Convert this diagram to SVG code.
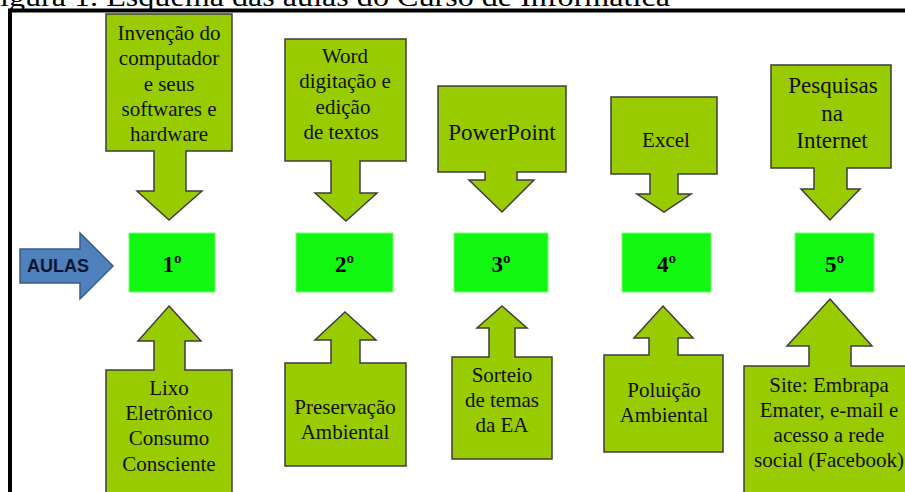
<svg xmlns="http://www.w3.org/2000/svg" width="905" height="492" viewBox="0 0 905 492">
<style>
.co{fill:#99CC00;stroke:#3d3d3d;stroke-width:1.5;stroke-linejoin:miter}
.bx{fill:#11F711;stroke:#7CF77C;stroke-width:1}
.t{font-family:"Liberation Serif","Times New Roman",serif;font-size:21px;fill:#111;text-anchor:middle}
.t23{font-size:23px}
.n{font-family:"Liberation Serif","Times New Roman",serif;font-size:23px;font-weight:bold;fill:#000;text-anchor:middle}
</style>
<rect x="0" y="0" width="905" height="492" fill="#fff"/>
<text x="0" y="6" font-family="Liberation Serif, serif" font-size="27" fill="#000" textLength="670" lengthAdjust="spacingAndGlyphs">igura 1. Esquema das aulas do Curso de Informática</text>
<g id="frame">
<line x1="10" y1="10.5" x2="905" y2="10.5" stroke="#000" stroke-width="4"/>
<line x1="10" y1="8.5" x2="10" y2="492" stroke="#000" stroke-width="4"/>
</g>
<g id="aulas">
<path d="M20,249 H80 V233 L113,266 L80,299 V283 H20 Z" fill="#4F81BD" stroke="#385D8A" stroke-width="1.5"/>
<text x="58" y="272" font-family="Liberation Sans, Arial, sans-serif" font-size="18" font-weight="bold" fill="#0b1730" text-anchor="middle">AULAS</text>
</g>
<g id="top1">
<path class="co" d="M106,14 H232 V151 H186 V191 H202 L169,220 L137,191 H154 V151 H106 Z"/>
<text class="t" x="169" y="40">Invenção do</text>
<text class="t" x="169" y="65">computador</text>
<text class="t" x="169" y="91">e seus</text>
<text class="t" x="169" y="116">softwares e</text>
<text class="t" x="169" y="141">hardware</text>
</g>
<g id="top2">
<path class="co" d="M285,39 H406 V161 H360 V193 H377 L346,221 L315,193 H331 V161 H285 Z"/>
<text class="t" x="345" y="63">Word</text>
<text class="t" x="345" y="88">digitação e</text>
<text class="t" x="343" y="114">edição</text>
<text class="t" x="341" y="139">de textos</text>
</g>
<g id="top3">
<path class="co" d="M438,86 H566 V172 H517 V180 H534 L502,212 L469,180 H485 V172 H438 Z"/>
<text class="t t23" x="502" y="140">PowerPoint</text>
</g>
<g id="top4">
<path class="co" d="M611,97 H717 V174 H678 V194 H691 L664,212 L637,194 H650 V174 H611 Z"/>
<text class="t" x="666" y="147">Excel</text>
</g>
<g id="top5">
<path class="co" d="M771,65 H891 V168 H847 V189 H860 L830,220 L801,189 H814 V168 H771 Z"/>
<text class="t t23" x="833" y="93">Pesquisas</text>
<text class="t t23" x="832" y="121">na</text>
<text class="t t23" x="832" y="148">Internet</text>
</g>
<g id="aula1">
<rect class="bx" x="129" y="233" width="86" height="59"/>
<text class="n" x="172" y="272">1º</text>
</g>
<g id="aula2">
<rect class="bx" x="296" y="233" width="97" height="59"/>
<text class="n" x="344.5" y="272">2º</text>
</g>
<g id="aula3">
<rect class="bx" x="454" y="233" width="94" height="59"/>
<text class="n" x="501" y="272">3º</text>
</g>
<g id="aula4">
<rect class="bx" x="622" y="233" width="89" height="59"/>
<text class="n" x="666.5" y="272">4º</text>
</g>
<g id="aula5">
<rect class="bx" x="795" y="233" width="79" height="59"/>
<text class="n" x="834.5" y="272">5º</text>
</g>
<g id="bot1">
<path class="co" d="M169,306 L201,341 H185 V370 H232 V500 H106 V370 H154 V341 H138 Z"/>
<text class="t" x="169" y="395">Lixo</text>
<text class="t" x="169" y="420">Eletrônico</text>
<text class="t" x="169" y="445">Consumo</text>
<text class="t" x="169" y="471">Consciente</text>
</g>
<g id="bot2">
<path class="co" d="M345,312 L376,340 H360 V363 H406 V466 H285 V363 H331 V340 H315 Z"/>
<text class="t" x="345" y="414">Preservação</text>
<text class="t" x="345" y="439">Ambiental</text>
</g>
<g id="bot3">
<path class="co" d="M502,306 L527,328 H515 V357 H552 V459 H452 V357 H489 V328 H477 Z"/>
<text class="t" x="502" y="382">Sorteio</text>
<text class="t" x="502" y="407">de temas</text>
<text class="t" x="502" y="432">da EA</text>
</g>
<g id="bot4">
<path class="co" d="M663,306 L693,338 H678 V355 H723 V452 H604 V355 H649 V338 H634 Z"/>
<text class="t" x="664" y="397">Poluição</text>
<text class="t" x="664" y="422">Ambiental</text>
</g>
<g id="bot5">
<path class="co" d="M830,299 L872,346 H851 V366 H912 V500 H744 V366 H809 V346 H787 Z"/>
<text class="t" x="829" y="392">Site: Embrapa</text>
<text class="t" x="829" y="417">Emater, e-mail e</text>
<text class="t" x="829" y="442">acesso a rede</text>
<text class="t" x="829" y="467">social (Facebook)</text>
</g>
</svg>
